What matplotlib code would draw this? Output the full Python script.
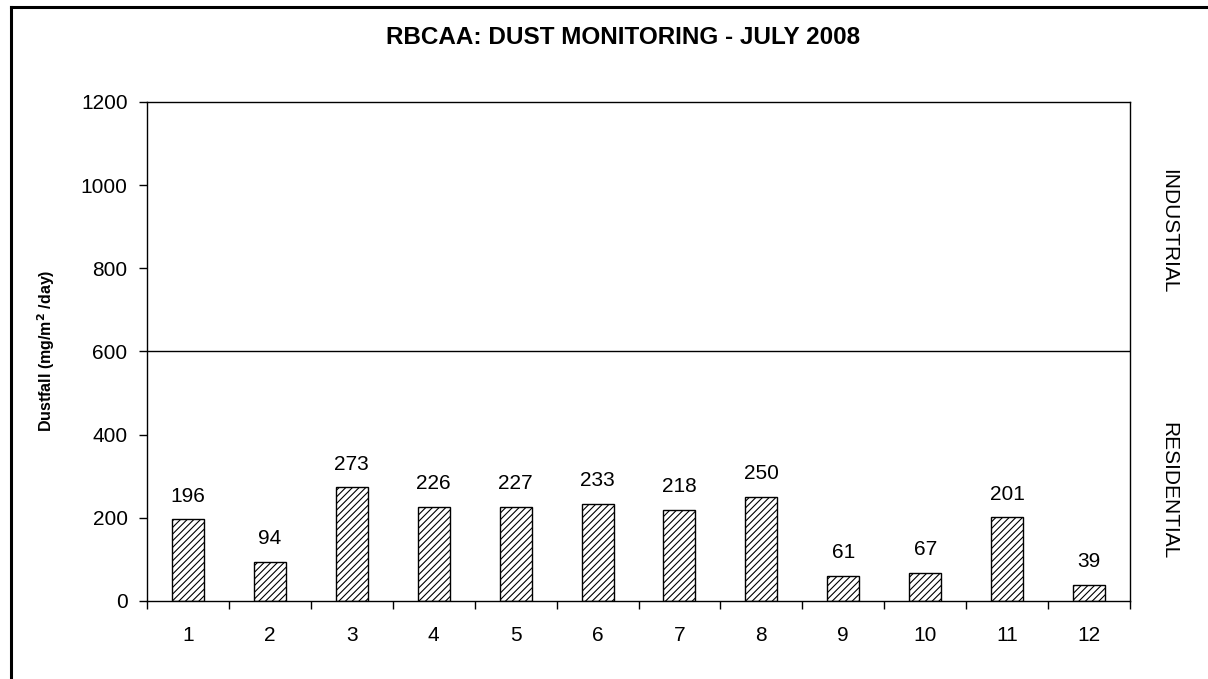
import matplotlib
matplotlib.use("Agg")
import matplotlib.pyplot as plt
from matplotlib.lines import Line2D
import numpy as np

plt.rcParams['font.family'] = ['Liberation Sans', 'DejaVu Sans']
plt.rcParams['hatch.linewidth'] = 0.8

sites = ['1', '2', '3', '4', '5', '6', '7', '8', '9', '10', '11', '12']
dustfall = [196, 94, 273, 226, 227, 233, 218, 250, 61, 67, 201, 39]
yticks = [0, 200, 400, 600, 800, 1000, 1200]
threshold = 600
title = "RBCAA: DUST MONITORING - JULY 2008"
zone_upper = "INDUSTRIAL"
zone_lower = "RESIDENTIAL"

fig = plt.figure(figsize=(12.08, 6.79), dpi=100)
ax = fig.add_axes([147/1208, 1-601/679, (1130-147)/1208, (601-102)/679])

x = np.arange(len(sites))
bars = ax.bar(x, dustfall, width=0.39, color='white', edgecolor='black',
              linewidth=1.0, hatch='/////')
for xi, v in zip(x, dustfall):
    ax.annotate(str(v), (xi, v), xytext=(0, 10), textcoords='offset points',
                ha='center', va='bottom', fontsize=15)

ax.axhline(threshold, color='black', linewidth=1.0)
ax.set_xlim(-0.5, len(sites) - 0.5)
ax.set_ylim(0, 1200)
ax.set_yticks(yticks)
ax.set_yticklabels([str(t) for t in yticks], fontsize=15)
ax.tick_params(axis='y', direction='out', length=6, width=1.0, pad=8)

ax.set_xticks(np.arange(len(sites) + 1) - 0.5)
ax.set_xticklabels([])
ax.set_xticks(x, minor=True)
ax.set_xticklabels(sites, minor=True, fontsize=15)
ax.tick_params(axis='x', which='major', direction='out', length=6, width=1.0)
ax.tick_params(axis='x', which='minor', length=0, pad=18)

for s in ax.spines.values():
    s.set_linewidth(1.0)
    s.set_color('black')

fig.text(623/1208, 1-38/679, title, ha='center', va='center', fontsize=17.5,
         fontweight='bold')
fig.text(46/1208, 1-351/679, r"Dustfall (mg/m$^{\mathbf{2}}$ /day)", rotation=90,
         ha='center', va='center', fontsize=11.5, fontweight='bold')
fig.text(1169/1208, 1-231/679, zone_upper, rotation=-90, ha='center', va='center', fontsize=15)
fig.text(1169/1208, 1-491/679, zone_lower, rotation=-90, ha='center', va='center', fontsize=15)

fig.add_artist(Line2D([11/1208, 1], [1-7/679, 1-7/679], color='black', linewidth=2.2,
                      transform=fig.transFigure))
fig.add_artist(Line2D([11/1208, 11/1208], [0, 1-7/679], color='black', linewidth=2.2,
                      transform=fig.transFigure))

fig.savefig('out.png', dpi=100)
